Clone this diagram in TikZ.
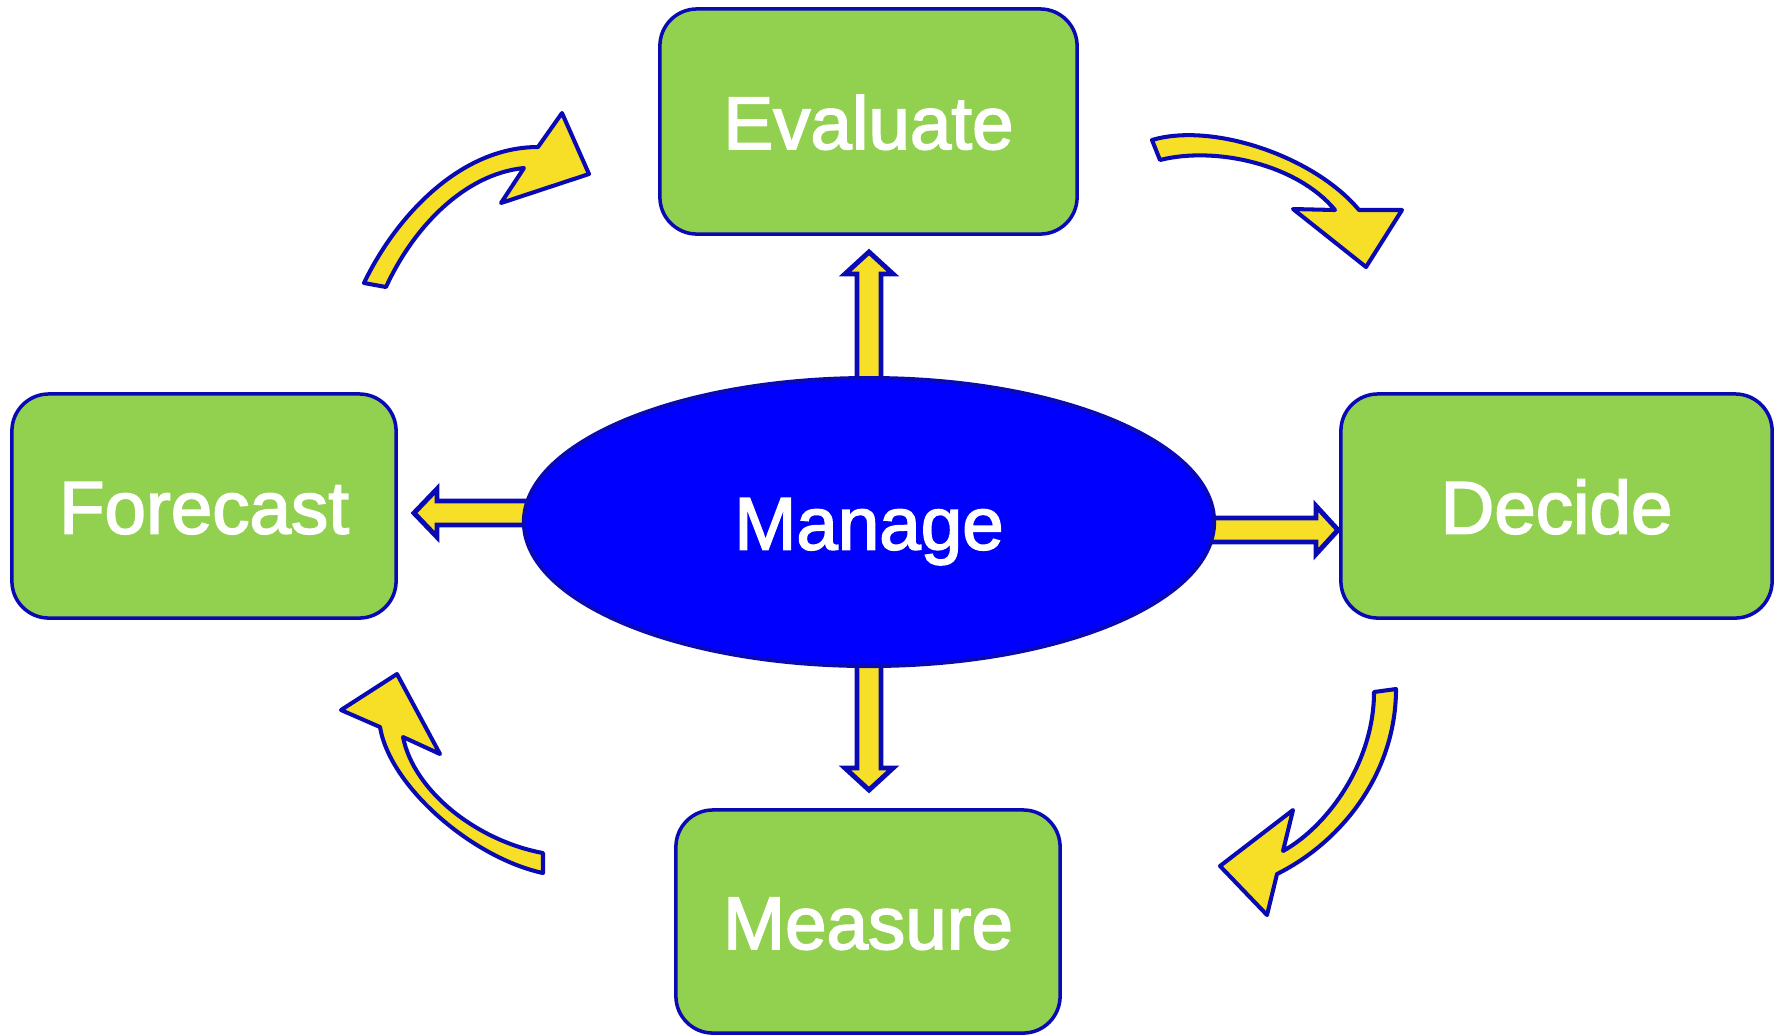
\documentclass[tikz,border=0pt]{standalone}
\usepackage{fontspec}
\setmainfont{Liberation Sans}
\newfontfamily\stagefont[FakeBold=2.2]{Liberation Sans}
\usetikzlibrary{shapes.geometric}

\definecolor{boxgreen}{HTML}{92D050}
\definecolor{edgeblue}{HTML}{0A0AB4}
\definecolor{arrowyellow}{HTML}{F8DF27}
\definecolor{hubblue}{HTML}{0000FF}

\tikzset{
  labeltext/.style={text=white, inner sep=0pt, text height=0.55cm, text depth=0pt,
    font=\stagefont\fontsize{21.2}{25}\selectfont},
  stage/.style={labeltext, draw=edgeblue, line width=1pt, fill=boxgreen,
    rounded corners=0.37cm},
  hub/.style={labeltext, ellipse, draw=edgeblue, line width=1.1pt, fill=hubblue},
  fatarrow/.style={draw=edgeblue, fill=arrowyellow, line width=1.4pt, line join=miter},
  bentarrow/.style={draw=edgeblue, fill=arrowyellow, line width=1.15pt, line join=round},
}

\begin{document}
\begin{tikzpicture}[x=0.01cm, y=-0.01cm]
\useasboundingbox (0,0) rectangle (1779,1035);

% outer stages
\node[stage, minimum width=4.17cm, minimum height=2.25cm] (evaluate) at (868.5,121.5) {Evaluate};
\node[stage, minimum width=3.84cm, minimum height=2.24cm] (forecast) at (204,506) {Forecast};
\node[stage, minimum width=4.31cm, minimum height=2.24cm] (decide) at (1556.5,506) {Decide};
\node[stage, minimum width=3.84cm, minimum height=2.23cm] (measure) at (868,921.5) {Measure};

% block arrows leaving the hub (drawn first so the hub covers their roots)
\draw[fatarrow] (857,400) -- (857,274) -- (845,274) -- (869,252) -- (893,274) -- (881,274) -- (881,400) -- cycle;
\draw[fatarrow] (857,640) -- (857,768) -- (845,768) -- (869,790) -- (893,768) -- (881,768) -- (881,640) -- cycle;
\draw[fatarrow] (560,501) -- (437,501) -- (437,489) -- (414,513) -- (437,537) -- (437,525) -- (560,525) -- cycle;
\draw[fatarrow] (1180,518) -- (1316,518) -- (1316,506) -- (1338,530) -- (1316,554) -- (1316,542) -- (1180,542) -- cycle;

% central hub
\node[hub, minimum width=6.9cm, minimum height=2.88cm] (manage) at (869,522) {Manage};

% curved arrows running round the cycle
\draw[bentarrow] (364,283) .. controls (394,220) and (458,147) .. (538,147)
  -- (562,113) -- (589,174) -- (501,203) -- (524,168)
  .. controls (464,174) and (413,228) .. (386,287) -- cycle;
\draw[bentarrow] (1152,140) .. controls (1212,122) and (1314,156) .. (1359,210)
  -- (1402,210) -- (1366,267) -- (1293,209) -- (1335,210)
  .. controls (1297,164) and (1215,146) .. (1160,160) -- cycle;
\draw[bentarrow] (1396,689) .. controls (1396,770) and (1345,840) .. (1277,874)
  -- (1267,915) -- (1220,866) -- (1293,810) -- (1283,851)
  .. controls (1328,826) and (1374,762) .. (1374,692) -- cycle;
\draw[bentarrow] (543,873) .. controls (473,858) and (390,787) .. (380,727)
  -- (341,710) -- (397,674) -- (440,754) -- (403,737)
  .. controls (414,792) and (478,841) .. (543,853) -- cycle;
\end{tikzpicture}
\end{document}
